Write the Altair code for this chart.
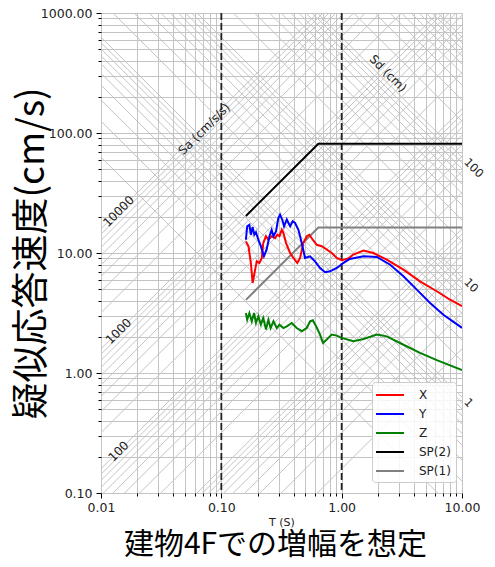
import altair as alt
import numpy as np
import pandas as pd

TWO_PI = 2 * np.pi

# ---------------- data ----------------
# X direction (red)
x_T = [0.160, 0.168, 0.176, 0.182, 0.191, 0.197, 0.207, 0.217, 0.223, 0.235, 0.246, 0.262,
       0.280, 0.292, 0.304, 0.318, 0.328, 0.345, 0.373, 0.397, 0.428, 0.451, 0.480, 0.513,
       0.539, 0.575, 0.621, 0.683, 0.752, 0.827, 0.911, 1.00, 1.10, 1.17, 1.25, 1.52, 1.83,
       2.37, 3.26, 4.48, 6.17, 7.96, 10.0]
x_Sv = [12.5, 11.4, 8.25, 5.62, 7.26, 8.53, 8.25, 9.09, 12.1, 13.8, 12.9, 13.8,
        13.3, 14.2, 13.8, 15.6, 14.7, 12.1, 10.0, 9.09, 8.25, 9.09, 12.1, 13.8,
        14.2, 12.9, 11.7, 11.4, 10.7, 10.0, 9.09, 8.7, 8.9, 9.2, 9.7, 10.5, 10.0,
        8.8, 7.26, 5.81, 4.80, 4.08, 3.6]
# Y direction (blue)
y_T = [0.160, 0.164, 0.171, 0.176, 0.182, 0.188, 0.194, 0.203, 0.213, 0.226, 0.238, 0.251,
       0.262, 0.271, 0.285, 0.298, 0.308, 0.324, 0.332, 0.350, 0.373, 0.392, 0.410, 0.437,
       0.466, 0.496, 0.546, 0.601, 0.661, 0.728, 0.801, 0.911, 1.03, 1.17, 1.52, 1.96,
       2.53, 3.26, 4.21, 5.43, 7.00, 10.0]
y_Sv = [12.9, 16.7, 17.2, 14.2, 16.5, 14.2, 14.9, 12.9, 11.4, 9.39, 10.7, 13.8,
        15.6, 13.8, 15.2, 19.6, 20.9, 18.4, 16.7, 19.0, 16.7, 18.4, 17.8, 15.6,
        12.1, 9.09, 9.39, 8.53, 7.50, 6.91, 7.04, 7.50, 8.25, 8.91, 9.39, 9.26,
        7.99, 6.39, 4.95, 3.83, 3.06, 2.38]
# Z direction (green)
z_T = [0.160, 0.164, 0.171, 0.179, 0.187, 0.194, 0.203, 0.213, 0.223, 0.235, 0.246, 0.257,
       0.271, 0.289, 0.304, 0.328, 0.350, 0.385, 0.423, 0.466, 0.513, 0.546, 0.575, 0.613,
       0.661, 0.700, 0.752, 0.827, 0.911, 1.00, 1.25, 1.52, 1.96, 2.37, 3.26, 4.48, 6.17, 10.0]
z_Sv = [3.16, 2.78, 3.16, 2.70, 3.16, 2.61, 2.97, 2.53, 2.87, 2.30, 2.78, 2.37,
        2.70, 2.37, 2.53, 2.37, 2.45, 2.61, 2.37, 2.23, 2.37, 2.70, 2.75, 2.45,
        2.09, 1.78, 1.90, 2.09, 2.05, 1.96, 1.84, 1.92, 2.09, 2.02, 1.72, 1.47, 1.28, 1.06]
# design spectra
sp2_T = [0.16, 0.64, 10.0]
sp2_Sv = [20.37, 81.49, 81.49]
sp1_T = [0.16, 0.64, 10.0]
sp1_Sv = [4.07, 16.30, 16.30]

series_order = ["X", "Y", "Z", "SP(2)", "SP(1)"]
series_colors = ["#ff0000", "#0000ff", "#008000", "#000000", "#808080"]

# tripartite grid values
mult = list(range(1, 10))
t_grid = [m * 10.0 ** k for k in range(-2, 1) for m in mult] + [10.0]
v_grid = [m * 10.0 ** k for k in range(-1, 3) for m in mult] + [1000.0]
sa_grid = [m * 10.0 ** k for k in range(0, 4) for m in mult] + [10000.0]
sd_grid = [m * 10.0 ** k for k in range(-1, 3) for m in mult] + [1000.0]

dash_T = [0.1, 1.0]
sa_label_values = [100, 1000, 10000]
sa_label_T = 0.014
sd_label_values = [1, 10, 100]
sd_label_T = 10.7
sa_title_text, sa_title_T, sa_title_Sv = "Sa (cm/s/s)", 0.072, 108.0
sd_title_text, sd_title_T, sd_title_Sv = "Sd (cm)", 2.43, 313.0

T_DOMAIN = [0.01, 10.0]
SV_DOMAIN = [0.1, 1000.0]

# ---------------- tables ----------------
diag_rows = []
for sa in sa_grid:
    diag_rows.append(dict(T=T_DOMAIN[0], Sv=sa * T_DOMAIN[0] / TWO_PI,
                          T2=T_DOMAIN[1], Sv2=sa * T_DOMAIN[1] / TWO_PI))
for sd in sd_grid:
    diag_rows.append(dict(T=T_DOMAIN[0], Sv=TWO_PI * sd / T_DOMAIN[0],
                          T2=T_DOMAIN[1], Sv2=TWO_PI * sd / T_DOMAIN[1]))
diag_df = pd.DataFrame(diag_rows)

curves_df = pd.concat([
    pd.DataFrame({"T": x_T, "Sv": x_Sv, "series": "X"}),
    pd.DataFrame({"T": y_T, "Sv": y_Sv, "series": "Y"}),
    pd.DataFrame({"T": z_T, "Sv": z_Sv, "series": "Z"}),
])
sp_df = pd.concat([
    pd.DataFrame({"T": sp2_T, "Sv": sp2_Sv, "series": "SP(2)"}),
    pd.DataFrame({"T": sp1_T, "Sv": sp1_Sv, "series": "SP(1)"}),
])
dash_df = pd.DataFrame({"T": dash_T})
sa_lab_df = pd.DataFrame({"T": sa_label_T,
                          "Sv": [v * sa_label_T / TWO_PI for v in sa_label_values],
                          "text": [str(v) for v in sa_label_values]})
sd_lab_df = pd.DataFrame({"T": sd_label_T,
                          "Sv": [TWO_PI * v / sd_label_T for v in sd_label_values],
                          "text": [str(v) for v in sd_label_values]})
sa_title_df = pd.DataFrame({"T": [sa_title_T], "Sv": [sa_title_Sv], "text": [sa_title_text]})
sd_title_df = pd.DataFrame({"T": [sd_title_T], "Sv": [sd_title_Sv], "text": [sd_title_text]})

# ---------------- encodings ----------------
DECADE = "abs(log(datum.value)/LN10 - round(log(datum.value)/LN10)) < 1e-6"
GRID = "#c4c4c4"
FONT = "DejaVu Sans"

x_axis = alt.Axis(values=t_grid, title="T (S)",
                  labelExpr=f"{DECADE} ? format(datum.value, '.2f') : ''",
                  grid=True, gridColor=GRID, gridWidth=1, domain=False,
                  tickColor="#000", tickWidth=1,
                  tickSize={"condition": {"test": DECADE, "value": 5}, "value": 3},
                  labelFont=FONT, labelFontSize=12.5, labelColor="#222", labelPadding=3,
                  labelFlush=False, labelOverlap=False,
                  titleFont=FONT, titleFontSize=11, titleFontWeight="normal",
                  titleColor="#222", titlePadding=3)
y_axis = alt.Axis(values=v_grid, title="疑似応答速度(cm/s)",
                  labelExpr=f"{DECADE} ? format(datum.value, '.2f') : ''",
                  grid=True, gridColor=GRID, gridWidth=1, domain=False,
                  tickColor="#000", tickWidth=1,
                  tickSize={"condition": {"test": DECADE, "value": 5}, "value": 3},
                  labelFont=FONT, labelFontSize=12.5, labelColor="#222", labelPadding=4,
                  labelFlush=False, labelOverlap=False,
                  titleFont="Noto Sans CJK JP", titleFontSize=37, titleFontWeight="normal",
                  titleColor="#000", titlePadding=-11)

x_scale = alt.Scale(type="log", domain=T_DOMAIN, nice=False)
y_scale = alt.Scale(type="log", domain=SV_DOMAIN, nice=False)


def X(field="T"):
    return alt.X(f"{field}:Q", scale=x_scale, axis=x_axis)


def Y(field="Sv"):
    return alt.Y(f"{field}:Q", scale=y_scale, axis=y_axis)


legend = alt.Legend(orient="none", legendX=271, legendY=369, title=None,
                    fillColor="rgba(255,255,255,0.85)", strokeColor="#cccccc",
                    cornerRadius=3, padding=5, symbolType="M-2,0H2", symbolSize=196,
                    symbolOffset=5, symbolStrokeWidth=2, labelFont=FONT, labelFontSize=12,
                    labelColor="#222", rowPadding=5, labelOffset=21)
color = alt.Color("series:N", scale=alt.Scale(domain=series_order, range=series_colors),
                  legend=legend)

diag = alt.Chart(diag_df).mark_rule(clip=True, color=GRID, strokeWidth=1).encode(
    x=X(), y=Y(), x2="T2:Q", y2="Sv2:Q")

dashed = alt.Chart(dash_df).mark_rule(color="#222", strokeDash=[7, 3], strokeWidth=1.8).encode(
    x=X())

sp_lines = alt.Chart(sp_df).mark_line(strokeWidth=2, clip=True).encode(
    x=X(), y=Y(), color=color)
curves = alt.Chart(curves_df).mark_line(strokeWidth=2, clip=True).encode(
    x=X(), y=Y(), color=color)

sa_text = alt.Chart(sa_lab_df).mark_text(angle=315, align="center", baseline="middle",
                                         font=FONT, fontSize=12, color="#222").encode(
    x=X(), y=Y(), text="text:N")
sa_title_mark = alt.Chart(sa_title_df).mark_text(angle=315, align="center", baseline="middle",
                                                 font=FONT, fontSize=12, color="#222").encode(
    x=X(), y=Y(), text="text:N")
sd_text = alt.Chart(sd_lab_df).mark_text(angle=45, align="left", baseline="middle",
                                         font=FONT, fontSize=11.5, color="#222").encode(
    x=X(), y=Y(), text="text:N")
sd_title_mark = alt.Chart(sd_title_df).mark_text(angle=45, align="center", baseline="middle",
                                                 font=FONT, fontSize=12, color="#222").encode(
    x=X(), y=Y(), text="text:N")

chart = alt.layer(diag, dashed, sp_lines, curves, sa_text, sa_title_mark, sd_text,
                  sd_title_mark).properties(
    width=361, height=480,
    autosize="none",
    padding={"left": 93, "top": 5, "right": 24, "bottom": 66},
    title=alt.TitleParams("建物4Fでの増幅を想定", orient="bottom", anchor="middle",
                          font="Noto Sans CJK JP", fontSize=30, fontWeight="normal",
                          color="#000", offset=2, dx=-6),
).configure_view(stroke="#222", strokeWidth=1).configure(background="white")

chart.save("out.html", embed_options={"renderer": "svg", "actions": False})
